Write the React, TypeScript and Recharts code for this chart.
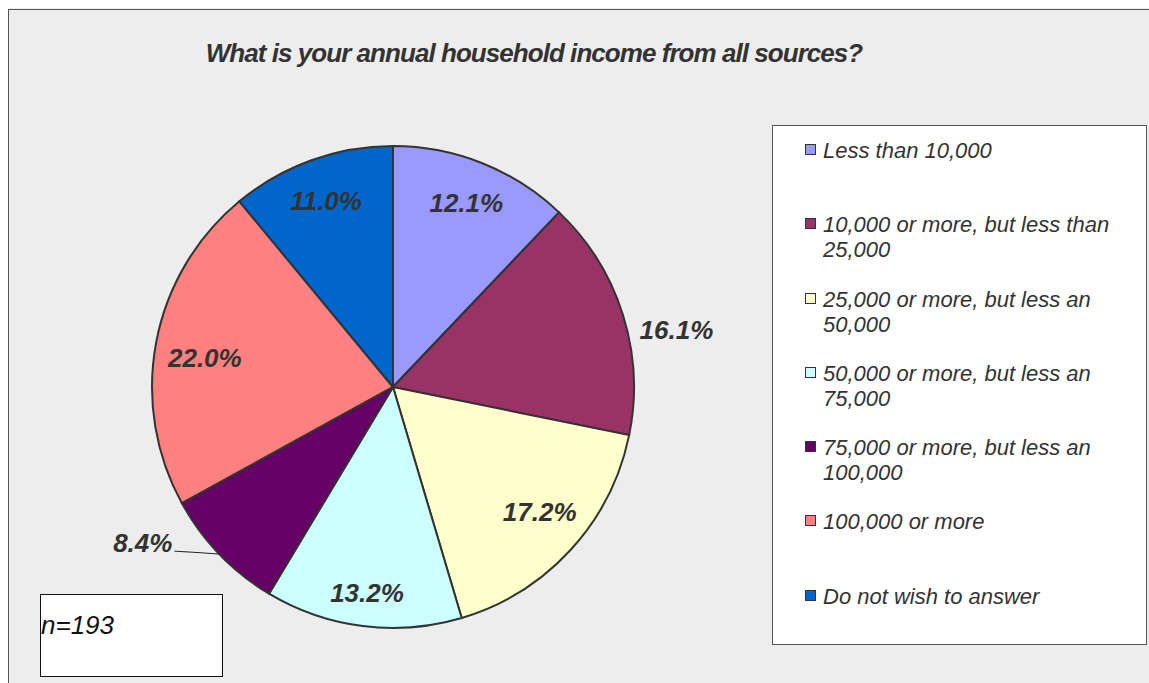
import React from "react";
import { PieChart, Pie, Cell, Legend } from "recharts";

const categories = [
  "Less than 10,000",
  "10,000 or more, but less than 25,000",
  "25,000 or more, but less an 50,000",
  "50,000 or more, but less an 75,000",
  "75,000 or more, but less an 100,000",
  "100,000 or more",
  "Do not wish to answer",
];
const percents = [12.1, 16.1, 17.2, 13.2, 8.4, 22.0, 11.0];
const colors = ["#9999FF", "#993366", "#FFFFCC", "#CCFFFF", "#660066", "#FF8080", "#0066CC"];

const TITLE = "What is your annual household income from all sources?";
const SAMPLE = "n=193";

// label placement per slice: radius factor, angle shift (deg), leader line
const labelPlacement = [
  { r: 0.82, shift: 0, leader: false },
  { r: 1.2, shift: -6, leader: false },
  { r: 0.8, shift: 2, leader: false },
  { r: 0.86, shift: 0, leader: false },
  { r: 1, shift: 0, leader: true },
  { r: 0.79, shift: 2, leader: false },
  { r: 0.82, shift: 0, leader: false },
];

const data = categories.map((name, i) => ({ name, value: percents[i] }));

const W = 1141;
const H = 675;
const RAD = Math.PI / 180;
const textColor = "#333333";

const renderLabel = (props: any) => {
  const { cx, cy, midAngle, outerRadius, index, value } = props;
  const p = labelPlacement[index];
  const txt = `${Number(value).toFixed(1)}%`;
  const style = {
    fontFamily: "'Liberation Sans', Arial, sans-serif",
    fontSize: 26,
    fontStyle: "italic",
    fontWeight: "bold",
    fill: textColor,
  } as const;
  if (p.leader) {
    const ex = cx + outerRadius * Math.cos(-midAngle * RAD);
    const ey = cy + outerRadius * Math.sin(-midAngle * RAD);
    const lx = ex - 45;
    const ly = ey - 3;
    return (
      <g>
        <path d={`M${ex},${ey}Q${ex - 10},${ey - 1} ${lx},${ly}`} stroke="#222" strokeWidth={1} fill="none" />
        <text x={lx - 2} y={ly + 1} textAnchor="end" style={style}>
          {txt}
        </text>
      </g>
    );
  }
  const a = (midAngle + p.shift) * RAD;
  const x = cx + outerRadius * p.r * Math.cos(-a);
  const y = cy + outerRadius * p.r * Math.sin(-a);
  return (
    <text x={x} y={y} textAnchor="middle" dominantBaseline="central" style={style}>
      {txt}
    </text>
  );
};

const renderLegend = () => (
  <div
    style={{
      boxSizing: "border-box",
      width: 375,
      height: 520,
      background: "#ffffff",
      border: "1.5px solid #555",
      paddingTop: 12,
      fontFamily: "'Liberation Sans', Arial, sans-serif",
      fontStyle: "italic",
      fontSize: 22,
      color: textColor,
    }}
  >
    {categories.map((name, i) => (
      <div key={name} style={{ position: "relative", height: 74.3, paddingLeft: 50 }}>
        <span
          style={{
            position: "absolute",
            left: 32,
            top: 6,
            width: 9,
            height: 9,
            background: colors[i],
            border: "1.8px solid #333",
          }}
        />
        <div style={{ width: 310, lineHeight: "25px" }}>{name}</div>
      </div>
    ))}
  </div>
);

export default function App() {
  return (
    <div style={{ position: "fixed", left: 0, top: 0, width: 1149, height: 683, background: "#fff", overflow: "hidden" }}>
      <div
        style={{
          position: "absolute",
          left: 8,
          top: 8,
          width: W,
          height: H,
          background: "#ededed",
          overflow: "hidden",
        }}
      >
        <div
          style={{
            position: "absolute",
            left: 0,
            top: 1,
            right: 0,
            bottom: 0,
            borderTop: "1.5px solid #555",
            borderLeft: "1.5px solid #555",
          }}
        />
        <div
          style={{
            position: "absolute",
            top: 30,
            left: 0,
            width: 1052,
            textAlign: "center",
            fontFamily: "'Liberation Sans', Arial, sans-serif",
            fontStyle: "italic",
            fontWeight: "bold",
            fontSize: 26,
            letterSpacing: -0.95,
            color: textColor,
          }}
        >
          {TITLE}
        </div>
        <PieChart width={W} height={H} margin={{ top: 0, right: 0, bottom: 0, left: 0 }} style={{ position: "absolute", left: 0, top: 0 }}>
          <Pie
            data={data}
            dataKey="value"
            nameKey="name"
            cx={385}
            cy={379}
            outerRadius={241}
            startAngle={90}
            endAngle={-270}
            stroke="#333"
            strokeWidth={2}
            label={renderLabel}
            labelLine={false}
            isAnimationActive={false}
          >
            {data.map((d, i) => (
              <Cell key={d.name} fill={colors[i]} />
            ))}
          </Pie>
          <Legend
            layout="vertical"
            align="right"
            verticalAlign="top"
            content={renderLegend}
            wrapperStyle={{ left: 764, top: 117, width: 375, height: 520, right: "auto", bottom: "auto" }}
          />
        </PieChart>
        <div
          style={{
            position: "absolute",
            left: 32,
            top: 586,
            width: 183,
            height: 83,
            boxSizing: "border-box",
            background: "#fff",
            border: "1.5px solid #111",
            fontFamily: "'Liberation Sans', Arial, sans-serif",
            fontStyle: "italic",
            fontSize: 26,
            color: "#111",
            paddingTop: 16,
            lineHeight: "28px",
          }}
        >
          {SAMPLE}
        </div>
      </div>
    </div>
  );
}
